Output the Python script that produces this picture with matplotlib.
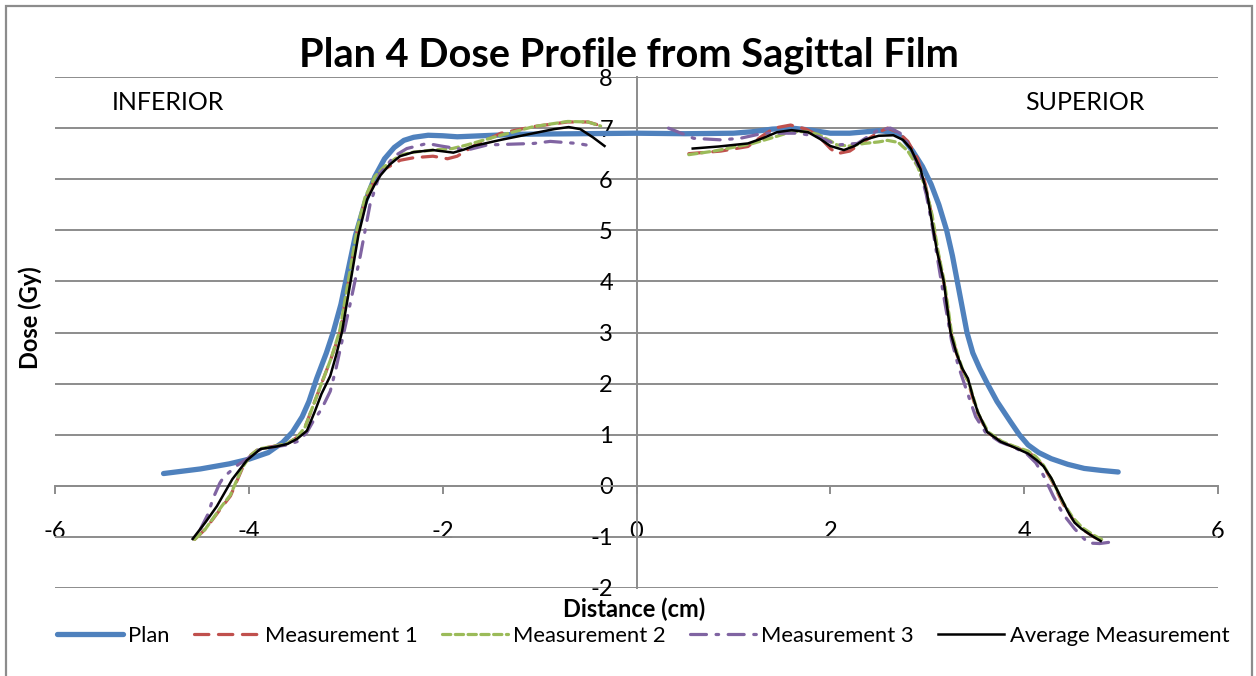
import matplotlib
matplotlib.use("Agg")
import matplotlib.pyplot as plt
from matplotlib.lines import Line2D
from matplotlib.patches import Rectangle

plt.rcParams['font.family'] = ['Lato', 'DejaVu Sans']
plt.rcParams['axes.unicode_minus'] = False

# ---------------- data ----------------
plan_x = [-4.88, -4.5, -4.2, -4.0, -3.8, -3.65, -3.55, -3.45, -3.38, -3.3, -3.2, -3.13, -3.05, -3.0,
          -2.9, -2.8, -2.7, -2.6, -2.5, -2.4, -2.3, -2.15, -2.0, -1.85, -1.6, -1.2, -0.6, 0.0, 0.5,
          1.0, 1.2, 1.4, 1.6, 1.8, 2.0, 2.2, 2.5, 2.65, 2.75, 2.85, 2.95, 3.04, 3.12, 3.2, 3.26,
          3.31, 3.36, 3.41, 3.47, 3.54, 3.62, 3.72, 3.86, 3.95, 4.04, 4.15, 4.28, 4.45, 4.62, 4.8, 4.97]
plan_y = [0.24, 0.33, 0.43, 0.52, 0.65, 0.85, 1.05, 1.35, 1.65, 2.1, 2.6, 3.0, 3.55, 4.0,
          4.9, 5.55, 6.05, 6.4, 6.62, 6.76, 6.82, 6.86, 6.85, 6.83, 6.85, 6.88, 6.89, 6.9, 6.89,
          6.9, 6.93, 6.98, 7.0, 6.96, 6.9, 6.9, 6.95, 6.92, 6.8, 6.55, 6.25, 5.9, 5.5, 5.0, 4.5,
          4.0, 3.5, 3.0, 2.6, 2.3, 2.0, 1.65, 1.25, 1.0, 0.8, 0.65, 0.53, 0.42, 0.34, 0.3, 0.27]

m1_left_x = [-4.56, -4.45, -4.37, -4.28, -4.19, -4.07, -3.98, -3.9, -3.75, -3.6, -3.5, -3.42, -3.35,
             -3.25, -3.15, -3.06, -2.97, -2.88, -2.8, -2.7, -2.6, -2.5, -2.44, -2.3, -2.1, -1.95,
             -1.85, -1.68, -1.4, -1.06, -0.71, -0.5, -0.34]
m1_left_y = [-1.05, -0.85, -0.65, -0.42, -0.2, 0.33, 0.6, 0.72, 0.77, 0.83, 0.95, 1.15, 1.5,
             2.0, 2.5, 3.0, 4.0, 5.0, 5.6, 6.0, 6.2, 6.3, 6.37, 6.42, 6.45, 6.4,
             6.45, 6.65, 6.9, 7.03, 7.12, 7.12, 7.03]
m1_right_x = [0.54, 0.87, 1.15, 1.3, 1.42, 1.59, 1.75, 1.87, 2.0, 2.07, 2.2, 2.35, 2.5, 2.59, 2.7,
              2.8, 2.9, 2.98, 3.04, 3.1, 3.17, 3.24, 3.3, 3.36, 3.42, 3.47, 3.52, 3.62, 3.76, 3.9,
              4.04, 4.12, 4.2, 4.3, 4.4, 4.5, 4.6, 4.72, 4.8]
m1_right_y = [6.5, 6.55, 6.64, 6.85, 7.0, 7.06, 6.98, 6.86, 6.6, 6.5, 6.55, 6.74, 6.92, 7.0, 6.92,
              6.74, 6.4, 5.9, 5.35, 4.65, 4.0, 3.05, 2.6, 2.28, 2.05, 1.72, 1.42, 1.05, 0.86, 0.76,
              0.66, 0.55, 0.38, 0.05, -0.35, -0.65, -0.85, -1.0, -1.08]

m2_left_x = [-4.56, -4.45, -4.37, -4.28, -4.19, -4.07, -3.98, -3.9, -3.75, -3.6, -3.5, -3.42, -3.35,
             -3.25, -3.15, -3.06, -2.97, -2.88, -2.8, -2.7, -2.6, -2.44, -2.3, -2.1, -1.9, -1.75,
             -1.55, -1.4, -1.06, -0.71, -0.5, -0.37]
m2_left_y = [-1.05, -0.85, -0.64, -0.4, -0.18, 0.35, 0.6, 0.72, 0.77, 0.83, 0.95, 1.15, 1.5,
             2.0, 2.5, 3.05, 4.05, 5.05, 5.65, 6.05, 6.25, 6.47, 6.53, 6.57, 6.6, 6.67,
             6.78, 6.86, 7.03, 7.13, 7.12, 7.04]
m2_right_x = [0.54, 0.8, 1.07, 1.2, 1.38, 1.6, 1.75, 1.87, 2.0, 2.07, 2.2, 2.35, 2.5, 2.59, 2.7,
              2.8, 2.9, 2.98, 3.05, 3.11, 3.18, 3.25, 3.31, 3.37, 3.43, 3.48, 3.53, 3.63, 3.77, 3.9,
              4.04, 4.12, 4.2, 4.3, 4.4, 4.5, 4.6, 4.72, 4.8]
m2_right_y = [6.48, 6.55, 6.65, 6.7, 6.8, 6.93, 6.93, 6.88, 6.75, 6.67, 6.65, 6.7, 6.73, 6.76, 6.72,
              6.55, 6.25, 5.85, 5.3, 4.6, 3.95, 3.0, 2.58, 2.25, 2.02, 1.7, 1.4, 1.05, 0.87, 0.77,
              0.68, 0.57, 0.4, 0.07, -0.32, -0.62, -0.82, -0.97, -1.05]

m3_left_x = [-4.5, -4.42, -4.37, -4.3, -4.26, -4.12, -4.0, -3.9, -3.75, -3.6, -3.48, -3.4, -3.34,
             -3.25, -3.16, -3.1, -3.04, -2.95, -2.85, -2.75, -2.65, -2.5, -2.37, -2.16, -2.02,
             -1.75, -1.54, -1.06, -0.89, -0.61, -0.52]
m3_left_y = [-0.85, -0.55, -0.25, 0.05, 0.17, 0.4, 0.55, 0.7, 0.76, 0.8, 0.88, 1.05, 1.25,
             1.5, 1.85, 2.3, 2.82, 3.6, 4.5, 5.5, 6.1, 6.45, 6.6, 6.7, 6.65,
             6.57, 6.67, 6.7, 6.74, 6.7, 6.67]
m3_right_x = [0.33, 0.46, 0.59, 0.87, 1.07, 1.31, 1.66, 1.87, 2.07, 2.28, 2.49, 2.62, 2.72, 2.82,
              2.92, 2.99, 3.05, 3.11, 3.18, 3.25, 3.32, 3.4, 3.5, 3.6, 3.75, 3.9, 4.03, 4.12, 4.2,
              4.3, 4.4, 4.52, 4.6, 4.66, 4.78, 4.9]
m3_right_y = [7.0, 6.9, 6.8, 6.77, 6.8, 6.9, 6.9, 6.84, 6.67, 6.7, 6.96, 7.0, 6.9, 6.65,
              6.2, 5.7, 5.1, 4.4, 3.6, 2.85, 2.35, 1.9, 1.35, 1.05, 0.86, 0.75, 0.62, 0.45, 0.2,
              -0.2, -0.55, -0.84, -1.0, -1.12, -1.13, -1.1]

avg_left_x = [-4.58, -4.45, -4.33, -4.17, -4.02, -3.88, -3.71, -3.6, -3.5, -3.4, -3.32, -3.25, -3.16,
              -3.1, -3.04, -2.95, -2.87, -2.78, -2.7, -2.64, -2.55, -2.44, -2.3, -2.1, -1.89, -1.78,
              -1.68, -1.4, -1.06, -0.85, -0.7, -0.58, -0.45, -0.33]
avg_left_y = [-1.04, -0.72, -0.4, 0.13, 0.5, 0.72, 0.77, 0.82, 0.92, 1.08, 1.45, 1.8, 2.15,
              2.55, 3.0, 4.0, 4.9, 5.6, 5.9, 6.08, 6.28, 6.45, 6.53, 6.57, 6.52, 6.58,
              6.65, 6.77, 6.9, 6.98, 7.02, 6.98, 6.82, 6.65]
avg_right_x = [0.58, 0.85, 1.15, 1.3, 1.45, 1.6, 1.77, 1.9, 2.0, 2.14, 2.25, 2.35, 2.5, 2.65, 2.75,
               2.83, 2.93, 3.0, 3.04, 3.1, 3.17, 3.24, 3.3, 3.36, 3.42, 3.47, 3.52, 3.62, 3.76,
               3.9, 4.04, 4.13, 4.2, 4.28, 4.35, 4.45, 4.52, 4.59, 4.7, 4.79]
avg_right_y = [6.6, 6.64, 6.7, 6.8, 6.92, 6.96, 6.92, 6.78, 6.65, 6.57, 6.65, 6.77, 6.85, 6.86, 6.77,
               6.6, 6.2, 5.7, 5.25, 4.6, 4.0, 3.0, 2.6, 2.3, 2.1, 1.75, 1.45, 1.05, 0.86,
               0.75, 0.63, 0.5, 0.38, 0.15, -0.12, -0.5, -0.72, -0.84, -0.98, -1.08]

series_names = ["Plan", "Measurement 1", "Measurement 2", "Measurement 3", "Average Measurement"]
x_ticks = [-6, -4, -2, 0, 2, 4, 6]
y_ticks = [-2, -1, 0, 1, 2, 3, 4, 5, 6, 7, 8]

# ---------------- styles ----------------
C_PLAN = "#4F81BD"
C_M1 = "#C0504D"
C_M2 = "#9BBB59"
C_M3 = "#8064A2"
C_AVG = "#000000"
GRID = "#8C8C8C"

fig = plt.figure(figsize=(12.56, 6.76), dpi=100)
W, H = 1256, 676
ax = fig.add_axes([55 / W, 1 - 588 / H, (1218 - 55) / W, (588 - 77) / H])
ax.set_xlim(-6, 6)
ax.set_ylim(-2, 8)

ax.set_yticks(y_ticks)
ax.yaxis.grid(True, color=GRID, lw=1.4)
ax.set_axisbelow(True)

for s in ["top", "right"]:
    ax.spines[s].set_visible(False)
ax.spines["bottom"].set_position(("data", 0))
ax.spines["left"].set_position(("data", 0))
for s in ["bottom", "left"]:
    ax.spines[s].set_color(GRID)
    ax.spines[s].set_linewidth(1.4)

ax.set_xticks(x_ticks)
ax.set_xticklabels([str(v) for v in x_ticks])
ax.set_yticklabels([str(v) for v in y_ticks])
ax.tick_params(axis="x", direction="out", length=5.5, width=1.4, color=GRID,
               pad=20, labelsize=17)
ax.tick_params(axis="y", length=0, pad=17, labelsize=17)

lw_m = 2.3
ax.plot(plan_x, plan_y, color=C_PLAN, lw=3.8, solid_capstyle="round", solid_joinstyle="round", zorder=3)
for xs, ys in [(m1_left_x, m1_left_y), (m1_right_x, m1_right_y)]:
    ax.plot(xs, ys, color=C_M1, lw=lw_m, ls=(0, (4.5, 3)), dash_capstyle="round", zorder=4)
for xs, ys in [(m2_left_x, m2_left_y), (m2_right_x, m2_right_y)]:
    ax.plot(xs, ys, color=C_M2, lw=lw_m, ls=(0, (2.6, 1.4)), dash_capstyle="round", zorder=5)
for xs, ys in [(m3_left_x, m3_left_y), (m3_right_x, m3_right_y)]:
    ax.plot(xs, ys, color=C_M3, lw=lw_m, ls=(0, (5, 3, 0.8, 3)), dash_capstyle="round", zorder=6)
for xs, ys in [(avg_left_x, avg_left_y), (avg_right_x, avg_right_y)]:
    ax.plot(xs, ys, color=C_AVG, lw=1.8, solid_joinstyle="round", zorder=7)

# texts
fig.text(0.501, 1 - 55 / H, "Plan 4 Dose Profile from Sagittal Film", ha="center", va="center",
         fontsize=28.5, fontweight="bold")
fig.text(112 / W, 1 - 102 / H, "INFERIOR", ha="left", va="center", fontsize=18)
fig.text(1145 / W, 1 - 102 / H, "SUPERIOR", ha="right", va="center", fontsize=18)
fig.text(30 / W, 1 - 318 / H, "Dose (Gy)", rotation=90, ha="center", va="center",
         fontsize=17, fontweight="bold")
fig.text(634 / W, 1 - 609 / H, "Distance (cm)", ha="center", va="center",
         fontsize=17, fontweight="bold")

handles = [
    Line2D([], [], color=C_PLAN, lw=3.8, solid_capstyle="round"),
    Line2D([], [], color=C_M1, lw=lw_m, ls=(0, (4.5, 3)), dash_capstyle="round"),
    Line2D([], [], color=C_M2, lw=lw_m, ls=(0, (2.6, 1.4)), dash_capstyle="round"),
    Line2D([], [], color=C_M3, lw=lw_m, ls=(0, (5, 3, 0.8, 3)), dash_capstyle="round"),
    Line2D([], [], color=C_AVG, lw=1.8),
]
fig.legend(handles, series_names, loc="center", bbox_to_anchor=(643 / W, 1 - 636 / H), ncol=5,
           frameon=False, fontsize=15.8, handlelength=3.0, handletextpad=0.25,
           columnspacing=1.1, borderaxespad=0, borderpad=0)

fig.patches.append(Rectangle((6 / W, -0.02), (1252 - 6) / W, 1.02 - 6 / H, transform=fig.transFigure,
                             fill=False, edgecolor="#8C8C8C", lw=1.6))

fig.savefig("out.png", dpi=100)
